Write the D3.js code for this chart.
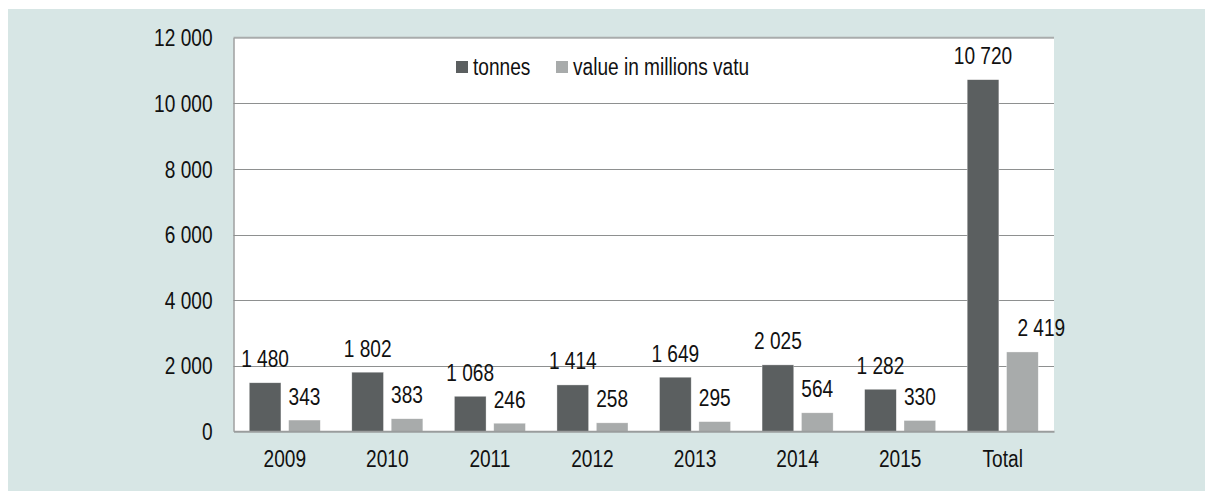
<!DOCTYPE html>
<html>
<head>
<meta charset="utf-8">
<script src="https://cdn.jsdelivr.net/npm/d3@7"></script>
<style>
  html, body { margin: 0; padding: 0; background: #ffffff; }
  svg { display: block; }
  text { font-family: "Liberation Sans Narrow", "Arial Narrow", "Liberation Sans", Arial, sans-serif; fill: #111; }
</style>
</head>
<body>
<svg id="chart" width="1205" height="491"></svg>
<script>
const categories = ["2009", "2010", "2011", "2012", "2013", "2014", "2015", "Total"];
const seriesNames = ["tonnes", "value in millions vatu"];
const tonnes = [1480, 1802, 1068, 1414, 1649, 2025, 1282, 10720];
const valueMillionsVatu = [343, 383, 246, 258, 295, 564, 330, 2419];
const yTickValues = [0, 2000, 4000, 6000, 8000, 10000, 12000];

const colors = ["#5b5f60", "#a8abab"];
const seriesValues = [tonnes, valueMillionsVatu];

const W = 1205, H = 491;
const plot = { left: 233.5, right: 1054, top: 37.7, bottom: 431.3 };
const fontSize = 23;
const condense = 0.83;

const locale = d3.formatLocale({ decimal: ".", thousands: " ", grouping: [3], currency: ["", ""] });
const fmt = locale.format(",");

const svg = d3.select("#chart");

function narrow(sel) {
  sel.each(function () {
    const len = this.getComputedTextLength();
    if (len > 0) {
      d3.select(this).attr("textLength", len * condense).attr("lengthAdjust", "spacingAndGlyphs");
    }
  });
}

// panel background
svg.append("rect").attr("x", 8).attr("y", 9).attr("width", W - 8).attr("height", H - 9).attr("fill", "#d7e6e5");
// plot area
svg.append("rect").attr("x", plot.left).attr("y", plot.top)
  .attr("width", plot.right - plot.left).attr("height", plot.bottom - plot.top).attr("fill", "#ffffff");

const y = d3.scaleLinear().domain([0, 12000]).range([plot.bottom, plot.top]);
const x0 = d3.scaleBand().domain(categories).range([plot.left, plot.right]).paddingInner(0).paddingOuter(0);
const x1 = d3.scaleBand().domain(seriesNames).range([0, x0.bandwidth()]).paddingInner(0.195).paddingOuter(0.4);

// gridlines
svg.append("g").selectAll("line").data(yTickValues.filter(v => v > 0 && v < 12000)).join("line")
  .attr("x1", plot.left).attr("x2", plot.right)
  .attr("y1", d => Math.round(y(d)) + 0.5).attr("y2", d => Math.round(y(d)) + 0.5)
  .attr("stroke", "#8e9090").attr("stroke-width", 1);
// top border
svg.append("line").attr("x1", plot.left).attr("x2", plot.right)
  .attr("y1", y(12000)).attr("y2", y(12000)).attr("stroke", "#a9acac").attr("stroke-width", 2);

// y axis
const yAxis = d3.axisLeft(y).tickValues(yTickValues).tickSize(0).tickPadding(21).tickFormat(fmt);
const gy = svg.append("g").attr("transform", `translate(${plot.left},0)`).call(yAxis);
gy.attr("font-family", null).attr("font-size", null);
gy.select(".domain").attr("stroke", "#8e9090").attr("stroke-width", 1.3);
gy.selectAll("text").attr("font-size", fontSize).attr("fill", "#111").attr("dy", "0.36em").call(narrow);

// bars
const groups = svg.append("g").selectAll("g").data(categories).join("g")
  .attr("transform", d => `translate(${x0(d)},0)`);
seriesNames.forEach((s, si) => {
  groups.append("rect")
    .attr("x", x1(s))
    .attr("width", x1.bandwidth())
    .attr("y", (d, i) => y(seriesValues[si][i]))
    .attr("height", (d, i) => y(0) - y(seriesValues[si][i]))
    .attr("fill", colors[si])
    .attr("stroke", "#ffffff").attr("stroke-width", 0.6).attr("stroke-opacity", 0.6);
});

// x axis
const xAxis = d3.axisBottom(x0).tickSize(0).tickPadding(19);
const gx = svg.append("g").attr("transform", `translate(0,${plot.bottom})`).call(xAxis);
gx.attr("font-family", null).attr("font-size", null);
gx.select(".domain").attr("stroke", "#9a9d9d").attr("stroke-width", 2);
gx.selectAll("text").attr("font-size", fontSize).attr("fill", "#111").call(narrow);

// data labels
const labelLayer = svg.append("g");
seriesNames.forEach((s, si) => {
  categories.forEach((c, i) => {
    const v = seriesValues[si][i];
    const cx = x0(c) + x1(s) + x1.bandwidth() / 2;
    // the Total value label sits to the right of its bar, overhanging the plot edge
    const isTotalValue = (c === "Total" && si === 1);
    const t = labelLayer.append("text")
      .attr("x", isTotalValue ? cx - 5 : cx).attr("y", y(v) - 15.5)
      .attr("text-anchor", isTotalValue ? "start" : "middle")
      .attr("font-size", fontSize).attr("fill", "#111")
      .text(fmt(v));
    narrow(t);
  });
});

// legend
const legend = svg.append("g");
const legendX = [456, 556];
seriesNames.forEach((s, si) => {
  legend.append("rect").attr("x", legendX[si]).attr("y", 61).attr("width", 12).attr("height", 12).attr("fill", colors[si]);
  legend.append("text").attr("x", legendX[si] + 17).attr("y", 75).attr("font-size", fontSize).attr("fill", "#111").text(s).call(narrow);
});
</script>
</body>
</html>
